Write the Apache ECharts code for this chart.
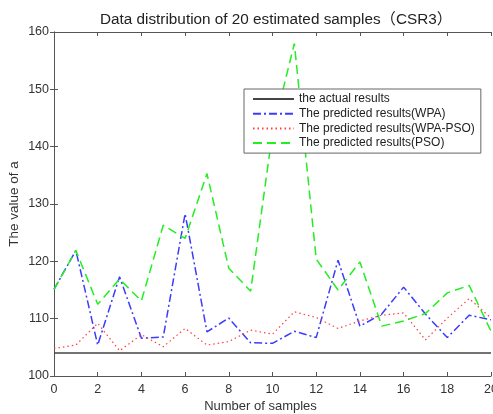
<!DOCTYPE html>
<html>
<head>
<meta charset="utf-8">
<script src="https://cdn.jsdelivr.net/npm/echarts@6/dist/echarts.min.js"></script>
<style>
html,body{margin:0;padding:0;background:#fff;}
#c{width:493px;height:414px;}
</style>
</head>
<body>
<div id="c"></div>
<script>
var samples = [0,1,2,3,4,5,6,7,8,9,10,11,12,13,14,15,16,17,18,19,20];
var actual = [104,104,104,104,104,104,104,104,104,104,104,104,104,104,104,104,104,104,104,104,104];
var wpa = [115.1,121.9,105.4,117.3,106.6,106.8,128.3,107.7,110.1,105.8,105.7,107.8,106.7,120.2,108.7,110.8,115.5,110.8,106.7,110.6,109.8];
var wpaPso = [104.8,105.4,109.2,104.4,107.2,105.1,108.3,105.4,106.0,108.0,107.3,111.2,110.2,108.3,109.6,110.6,111.0,106.3,110.1,113.5,110.1];
var pso = [115.1,121.9,112.5,116.9,113.1,126.3,124.0,135.3,118.8,114.8,142.5,158.0,120.4,115.0,119.9,108.7,109.6,110.9,114.5,115.8,107.8];
var xTicks = {min:0, max:20, interval:2};
var yTicks = {min:100, max:160, interval:10};
var names = ['the actual results','The predicted results(WPA)','The predicted results(WPA-PSO)','The predicted results(PSO)'];

function pairs(arr){ return samples.map(function(x,i){ return [x, arr[i]]; }); }

var FONT = "'Liberation Sans', Arial, 'Noto Sans CJK SC', sans-serif";
var axisColor = '#555';

var chart = echarts.init(document.getElementById('c'), null, {renderer:'canvas'});
var option = {
  backgroundColor:'#fff',
  animation:false,
  textStyle:{fontFamily:FONT},
  title:{
    text:'Data distribution of 20 estimated samples（CSR3）',
    left:271, top:7, textAlign:'center',
    textStyle:{fontFamily:FONT, fontSize:15.3, fontWeight:'normal', color:'#222'}
  },
  grid:{left:54, right:2, top:32, bottom:38, containLabel:false, outerBoundsMode:'none'},
  legend:{
    orient:'vertical', left:244, top:89,
    padding:[4,6,4,8],
    itemWidth:41, itemHeight:12, itemGap:2.7,
    backgroundColor:'#fff', borderColor:'#666', borderWidth:1,
    itemStyle:{opacity:0},
    textStyle:{fontFamily:FONT, fontSize:12, color:'#222', padding:[0,0,0,0]},
    data:names
  },
  xAxis:[{
    type:'value', min:xTicks.min, max:xTicks.max, interval:xTicks.interval, position:'bottom',
    name:'Number of samples', nameLocation:'middle', nameGap:24,
    nameTextStyle:{fontFamily:FONT, fontSize:13, color:'#333', padding:[0,24,0,0]},
    axisLine:{show:true, lineStyle:{color:axisColor, width:1}},
    axisTick:{show:true, inside:true, length:4, lineStyle:{color:axisColor}},
    axisLabel:{fontFamily:FONT, fontSize:12.5, color:'#333', margin:7},
    splitLine:{show:false}
  },{
    type:'value', min:xTicks.min, max:xTicks.max, interval:xTicks.interval, position:'top',
    axisLine:{show:true, lineStyle:{color:axisColor, width:1}},
    axisTick:{show:true, inside:true, length:4, lineStyle:{color:axisColor}},
    axisLabel:{show:false}, splitLine:{show:false}
  }],
  yAxis:[{
    type:'value', min:yTicks.min, max:yTicks.max, interval:yTicks.interval, position:'left',
    name:'The value of a', nameLocation:'middle', nameGap:33, nameRotate:90, nameMoveOverlap:false,
    nameTextStyle:{fontFamily:FONT, fontSize:13.5, color:'#333'},
    axisLine:{show:true, lineStyle:{color:axisColor, width:1}},
    axisTick:{show:true, inside:true, length:4, lineStyle:{color:axisColor}},
    axisLabel:{fontFamily:FONT, fontSize:12.5, color:'#333', margin:5},
    splitLine:{show:false}
  },{
    type:'value', min:yTicks.min, max:yTicks.max, interval:yTicks.interval, position:'right',
    axisLine:{show:true, lineStyle:{color:axisColor, width:1}},
    axisTick:{show:true, inside:true, length:4, lineStyle:{color:axisColor}},
    axisLabel:{show:false}, splitLine:{show:false}
  }],
  series:[
    {name:names[0], type:'line', symbol:'none', data:pairs(actual),
     lineStyle:{color:'#444', width:1.5, type:'solid'}, itemStyle:{color:'#444'}},
    {name:names[1], type:'line', symbol:'none', data:pairs(wpa),
     lineStyle:{color:'#3b3bff', width:1.5, type:[8,3,2,3]}, itemStyle:{color:'#3b3bff'}},
    {name:names[2], type:'line', symbol:'none', data:pairs(wpaPso),
     lineStyle:{color:'#ff4040', width:1.2, type:[1.5,3]}, itemStyle:{color:'#ff4040'}},
    {name:names[3], type:'line', symbol:'none', data:pairs(pso),
     lineStyle:{color:'#22ee22', width:1.5, type:[9,5]}, itemStyle:{color:'#22ee22'}}
  ]
};
chart.setOption(option);
</script>
</body>
</html>
